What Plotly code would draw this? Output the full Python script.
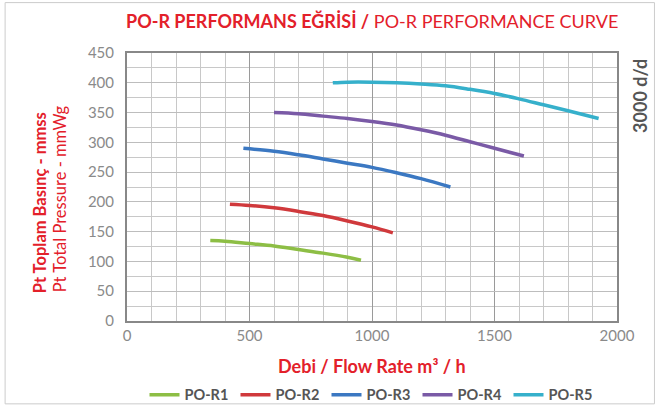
import plotly.graph_objects as go

# Data
r1_x = [340, 400, 500, 600, 700, 800, 900, 955]
r1_y = [135, 134, 130, 126, 120, 114, 107, 102]
r2_x = [420, 500, 600, 700, 800, 900, 1000, 1085]
r2_y = [196, 194, 190, 184, 177, 168, 158, 148]
r3_x = [475, 600, 700, 800, 900, 1000, 1100, 1200, 1320]
r3_y = [290, 285, 279, 272, 265, 258, 249, 239, 225]
r4_x = [600, 700, 800, 900, 1000, 1100, 1200, 1300, 1400, 1500, 1620]
r4_y = [350, 348, 344, 340, 335, 329, 321, 312, 301, 290, 277]
r5_x = [840, 900, 1000, 1100, 1200, 1300, 1400, 1500, 1600, 1700, 1800, 1925]
r5_y = [400, 401, 401, 400, 398, 395, 389, 382, 373, 363, 353, 340]

names = ["PO-R1", "PO-R2", "PO-R3", "PO-R4", "PO-R5"]
colors = ["#8DBE45", "#D0393C", "#3B78C2", "#7A5AA6", "#36B0CB"]
xs = [r1_x, r2_x, r3_x, r4_x, r5_x]
ys = [r1_y, r2_y, r3_y, r4_y, r5_y]

RED = "#E3202A"
FONT = "Lato"

fig = go.Figure()
for n, c, x, y in zip(names, colors, xs, ys):
    fig.add_trace(go.Scatter(x=x, y=y, mode="lines", name=n,
                             line=dict(color=c, width=3.5, shape="spline")))

W, H = 659, 410
L, R, T, B = 127, 41.5, 52.5, 89
pw, ph = W - L - R, H - T - B

def px(xp):
    return (xp - L) / pw

def py(yp):
    return (H - B - yp) / ph

fig.update_layout(
    width=W, height=H,
    margin=dict(l=L, r=R, t=T, b=B, autoexpand=False),
    paper_bgcolor="white", plot_bgcolor="white",
    font=dict(family=FONT, color="#8a8a8a", size=14),
    showlegend=True,
    legend=dict(orientation="h", x=0.5, xanchor="center", y=py(395), yanchor="middle",
                font=dict(family=FONT, size=14.5, color="#555555", weight="bold"),
                entrywidth=46, entrywidthmode="pixels",
                itemwidth=30, tracegroupgap=0, bgcolor="rgba(0,0,0,0)"),
    xaxis=dict(range=[0, 2000], dtick=500, tick0=0,
               showgrid=True, gridcolor="#9a9a9a", gridwidth=1,
               minor=dict(dtick=100, showgrid=True, gridcolor="#c8c8c8", gridwidth=1),
               showline=True, linecolor="#888888", linewidth=2, mirror=True,
               ticks="", zeroline=False,
               tickfont=dict(family=FONT, size=15, color="#8a8a8a")),
    yaxis=dict(range=[0, 450], dtick=50, tick0=0,
               showgrid=True, gridcolor="#bdbdbd", gridwidth=1,
               minor=dict(dtick=25, showgrid=True, gridcolor="#c8c8c8", gridwidth=1),
               showline=True, linecolor="#888888", linewidth=2, mirror=True,
               ticks="", zeroline=False, ticklabelstandoff=8,
               tickfont=dict(family=FONT, size=15, color="#8a8a8a")),
)

annotations = [
    dict(x=0.5, y=py(20), xref="paper", yref="paper", showarrow=False,
         xanchor="center", yanchor="middle",
         text="<b>PO-R PERFORMANS EĞRİSİ /</b> PO-R PERFORMANCE CURVE",
         font=dict(family=FONT, size=18, color=RED)),
    dict(x=0.5, y=py(366), xref="paper", yref="paper", showarrow=False,
         xanchor="center", yanchor="middle",
         text="<b>Debi / Flow Rate m³ / h</b>",
         font=dict(family=FONT, size=18, color=RED)),
    dict(x=px(40), y=py(203), xref="paper", yref="paper", showarrow=False,
         xanchor="center", yanchor="middle", textangle=-90,
         text="<b>Pt Toplam Basınç - mmss</b>",
         font=dict(family=FONT, size=16.5, color=RED)),
    dict(x=px(60), y=py(199), xref="paper", yref="paper", showarrow=False,
         xanchor="center", yanchor="middle", textangle=-90,
         text="Pt Total Pressure - mmWg",
         font=dict(family=FONT, size=16.5, color=RED)),
    dict(x=px(641), y=py(95), xref="paper", yref="paper", showarrow=False,
         xanchor="center", yanchor="middle", textangle=-90,
         text="<b>3000 d/d</b>",
         font=dict(family=FONT, size=18, color="#555555")),
]
fig.update_layout(annotations=annotations)

fig.add_shape(type="rect", xref="paper", yref="paper",
              x0=px(5), x1=px(655), y0=py(404), y1=py(2),
              line=dict(color="#cccccc", width=1), fillcolor="rgba(0,0,0,0)", layer="below")

fig.write_html("out.html", config={"displayModeBar": False})

with open("out.html", "r", encoding="utf-8") as f:
    html = f.read()
html = html.replace("<body>", '<body style="margin:0;padding:0;overflow:hidden">', 1)
with open("out.html", "w", encoding="utf-8") as f:
    f.write(html)
